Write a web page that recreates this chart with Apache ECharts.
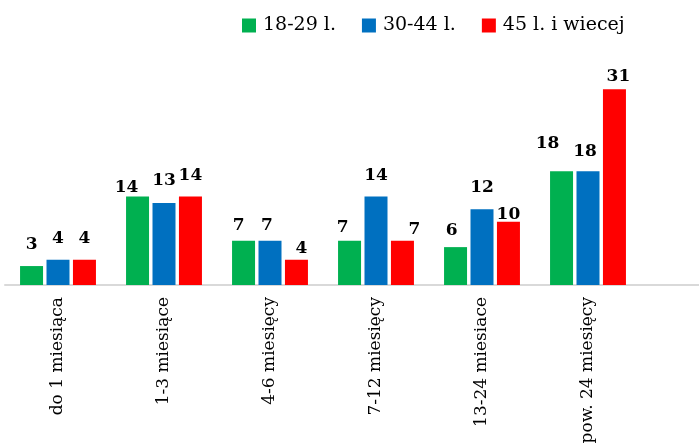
<!DOCTYPE html>
<html>
<head>
<meta charset="utf-8">
<script src="https://cdn.jsdelivr.net/npm/echarts@6/dist/echarts.min.js"></script>
<style>
html,body{margin:0;padding:0;background:#fff;}
#chart{width:699px;height:443px;}
</style>
</head>
<body>
<div id="chart"></div>
<script>
const categories = ['do 1 miesiąca', '1-3 miesiące', '4-6 miesięcy', '7-12 miesięcy', '13-24 miesiace', 'pow. 24 miesięcy'];
const seriesNames = ['18-29 l.', '30-44 l.', '45 l. i wiecej'];
const values1829 = [3, 14, 7, 7, 6, 18];
const values3044 = [4, 13, 7, 14, 12, 18];
const values45 = [4, 14, 4, 7, 10, 31];
const colors = ['#00B050', '#0070C0', '#FF0000'];

// label nudges [dx, dy] per series per category (imitating the manual label placement)
const labelNudges = [
  [[0,-3],[-11,9],[-5,3],[-7,5],[-4,2],[-14,-9]],
  [[0,-3],[0,-4],[-3,3],[0,-3],[0,-3],[-3,-1]],
  [[0,-3],[0,-3],[5,7],[12,7],[0,11],[4,6]]
];

const chart = echarts.init(document.getElementById('chart'));
const allValues = [values1829, values3044, values45];
const series = allValues.map((vals, si) => ({
  name: seriesNames[si],
  type: 'bar',
  barWidth: 23,
  barGap: '15%',
  itemStyle: { color: colors[si] },
  label: {
    show: true,
    position: 'top',
    distance: 10,
    fontFamily: 'DejaVu Serif',
    fontWeight: 'bold',
    fontSize: 17,
    color: '#000'
  },
  data: vals.map((v, ci) => ({
    value: v,
    label: { offset: labelNudges[si][ci] }
  }))
}));

chart.setOption({
  animation: false,
  color: colors,
  legend: {
    left: 237,
    top: 11,
    icon: 'rect',
    itemWidth: 14,
    itemHeight: 14,
    itemGap: 26,
    textStyle: {
      fontFamily: 'DejaVu Serif',
      fontSize: 19,
      color: '#000',
      padding: [0, 0, 0, 2]
    },
    data: seriesNames
  },
  grid: {
    left: 5,
    right: 58,
    top: 64,
    bottom: 158,
    containLabel: false,
    outerBoundsMode: 'none'
  },
  xAxis: {
    type: 'category',
    data: categories,
    axisLine: { show: true, lineStyle: { color: '#D9D9D9', width: 2 } },
    axisTick: { show: false },
    axisLabel: {
      rotate: 90,
      margin: 12,
      fontFamily: 'DejaVu Serif',
      fontSize: 17,
      color: '#000',
      interval: 0
    }
  },
  yAxis: {
    type: 'value',
    min: 0,
    max: 35,
    show: false,
    splitLine: { show: false }
  },
  graphic: [{
    type: 'line',
    shape: { x1: 641, y1: 285, x2: 699, y2: 285 },
    style: { stroke: '#D9D9D9', lineWidth: 2 }
  }],
  series: series
});
</script>
</body>
</html>
